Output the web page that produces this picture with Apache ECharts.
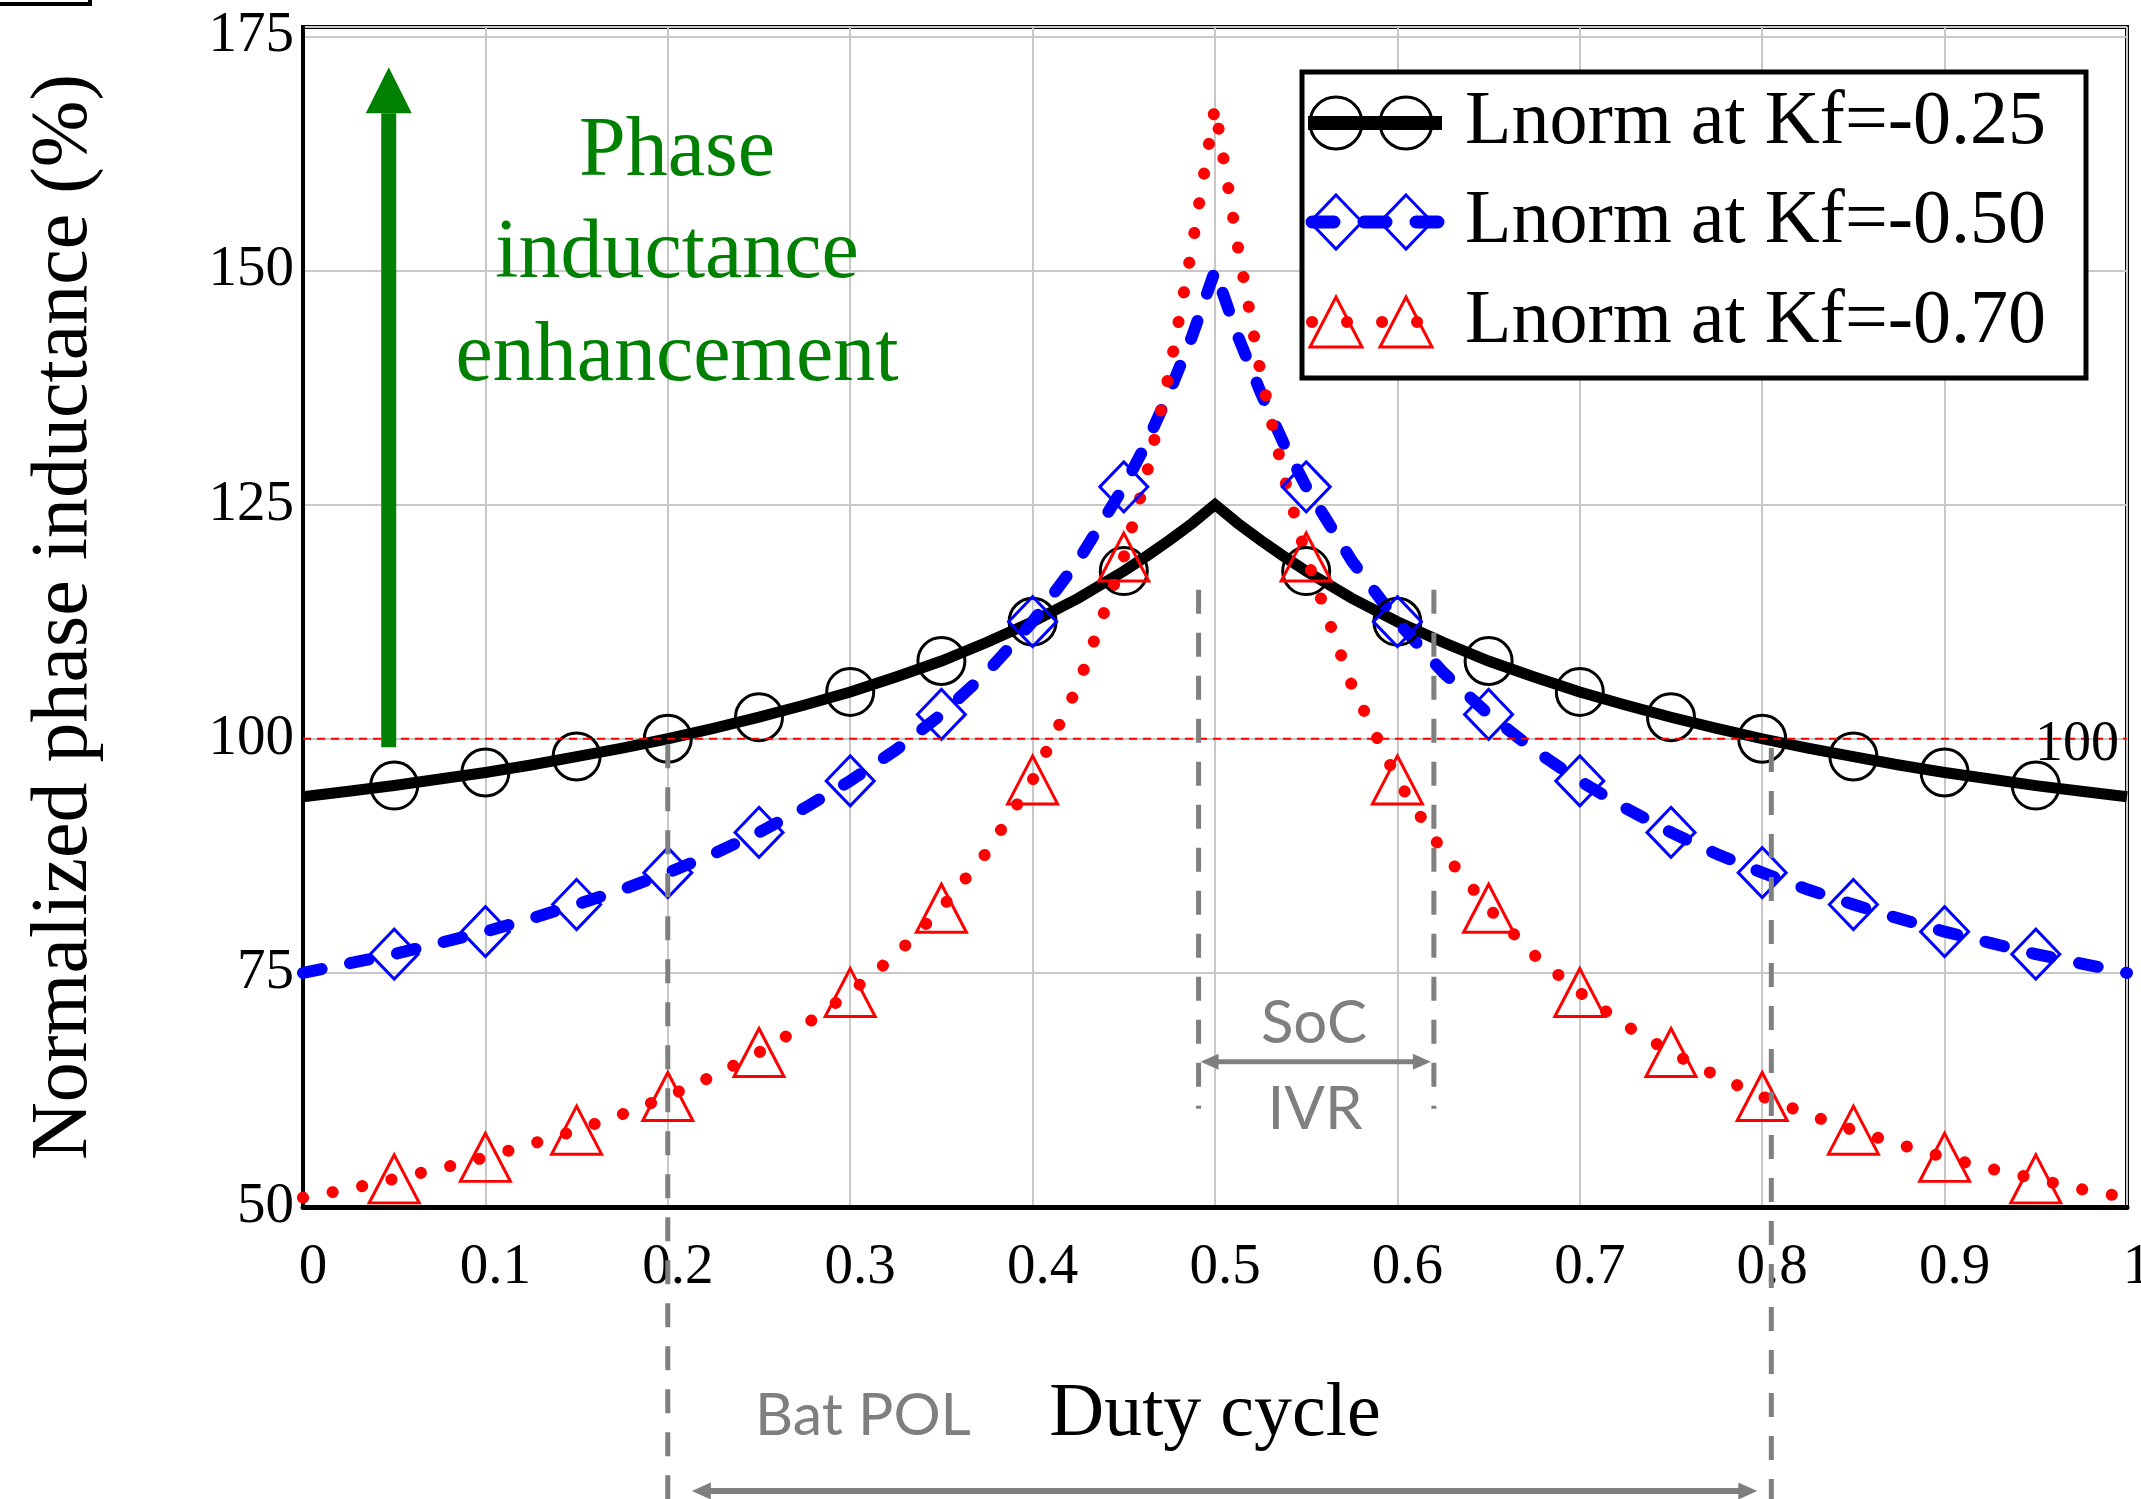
<!DOCTYPE html>
<html>
<head>
<meta charset="utf-8">
<title>Normalized phase inductance vs duty cycle</title>
<script src="https://cdn.jsdelivr.net/npm/echarts@6/dist/echarts.min.js"></script>
<style>
  html, body { margin: 0; padding: 0; background: #ffffff; }
  #chart { width: 2141px; height: 1499px; }
</style>
</head>
<body>
<div id="chart"></div>
<script>
// Duty cycle sample points (finer near D = 0.5 where the curves peak)
const dutyCycle = [0, 0.025, 0.05, 0.075, 0.1, 0.125, 0.15, 0.175, 0.2, 0.225, 0.25, 0.275, 0.3, 0.325, 0.35, 0.375, 0.4, 0.425, 0.45, 0.4625, 0.475, 0.4875, 0.5,
                   0.5125, 0.525, 0.5375, 0.55, 0.575, 0.6, 0.625, 0.65, 0.675, 0.7, 0.725, 0.75, 0.775, 0.8, 0.825, 0.85, 0.875, 0.9, 0.925, 0.95, 0.975, 1];

// Normalized phase inductance (%) for each coupling factor
const lnormKf025 = [93.8, 94.4, 95.0, 95.7, 96.4, 97.2, 98.1, 99.0, 100.0, 101.1, 102.3, 103.6, 105.0, 106.6, 108.3, 110.3, 112.5, 115.0, 117.9, 119.5, 121.2, 123.0, 125.0,
                    123.0, 121.2, 119.5, 117.9, 115.0, 112.5, 110.3, 108.3, 106.6, 105.0, 103.6, 102.3, 101.1, 100.0, 99.0, 98.1, 97.2, 96.4, 95.7, 95.0, 94.4, 93.8];
const lnormKf050 = [75.0, 76.0, 77.0, 78.2, 79.4, 80.8, 82.3, 83.9, 85.7, 87.7, 90.0, 92.6, 95.5, 98.8, 102.6, 107.1, 112.5, 119.0, 126.9, 131.6, 137.0, 143.0, 150.0,
                    143.0, 137.0, 131.6, 126.9, 119.0, 112.5, 107.1, 102.6, 98.8, 95.5, 92.6, 90.0, 87.7, 85.7, 83.9, 82.3, 80.8, 79.4, 78.2, 77.0, 76.0, 75.0];
const lnormKf070 = [51.0, 51.9, 53.0, 54.1, 55.3, 56.7, 58.2, 59.9, 61.8, 64.0, 66.5, 69.4, 72.9, 76.9, 81.9, 87.9, 95.6, 105.7, 119.4, 128.2, 139.1, 152.6, 167.5,
                    152.6, 139.1, 128.2, 119.4, 105.7, 95.6, 87.9, 81.9, 76.9, 72.9, 69.4, 66.5, 64.0, 61.8, 59.9, 58.2, 56.7, 55.3, 54.1, 53.0, 51.9, 51.0];

// Duty cycles that carry a marker symbol
const markerDuty = [0.05, 0.1, 0.15, 0.2, 0.25, 0.3, 0.35, 0.4, 0.45, 0.55, 0.6, 0.65, 0.7, 0.75, 0.8, 0.85, 0.9, 0.95];

const seriesNames = ['Lnorm at Kf=-0.25', 'Lnorm at Kf=-0.50', 'Lnorm at Kf=-0.70'];

// Y tick step; the frame runs slightly above the last labelled tick
const yStep = 25;
const yRange = [50, 176];

// Reference level and annotated duty-cycle ranges
const refLevel = 100;
const batPolRange = [0.2, 0.805];
const socIvrRange = [0.491, 0.62];

const SERIF = '"Liberation Serif", "Times New Roman", serif';
const SANS = 'Lato, "Open Sans", "Noto Sans", sans-serif';
const GRAY = '#7f7f7f';
const GREEN = '#008000';

const chart = echarts.init(document.getElementById('chart'), null, { renderer: 'canvas', width: 2141, height: 1499 });

function isMarker(d) {
  return markerDuty.some(function (m) { return Math.abs(m - d) < 1e-6; });
}

function curve(name, values, color, lineStyle, shape, size) {
  return {
    name: name,
    type: 'line',
    data: dutyCycle.map(function (d, i) { return [d, values[i]]; }),
    symbol: function (v) { return isMarker(v[0]) ? shape : 'none'; },
    symbolSize: size,
    itemStyle: { color: 'rgba(0,0,0,0)', borderColor: color, borderWidth: 3 },
    lineStyle: Object.assign({ color: color }, lineStyle),
    emphasis: { disabled: true },
    silent: true,
    clip: true
  };
}

const axisLabelBase = { fontFamily: SERIF, fontSize: 57, color: '#000', showMinLabel: true, showMaxLabel: true };
const splitLineStyle = { show: true, lineStyle: { color: '#c8c8c8', width: 2 } };

chart.setOption({
  animation: false,
  backgroundColor: '#ffffff',
  grid: {
    left: 303, top: 27, width: 1824, height: 1180,
    show: true, borderColor: '#000', borderWidth: 4, backgroundColor: 'transparent',
    containLabel: false, outerBoundsMode: 'none'
  },
  xAxis: {
    type: 'value', min: 0, max: 1, interval: 0.1,
    name: 'Duty cycle', nameLocation: 'middle', nameGap: 170,
    nameTextStyle: { fontFamily: SERIF, fontSize: 76, color: '#000' },
    axisLine: { show: true, onZero: false, lineStyle: { color: '#000', width: 5 } },
    axisTick: { show: false },
    axisLabel: Object.assign({ margin: 33, padding: [0, 0, 0, 20] }, axisLabelBase),
    splitLine: splitLineStyle
  },
  yAxis: {
    type: 'value', min: yRange[0], max: yRange[1], interval: yStep,
    name: 'Normalized phase inductance (%)', nameLocation: 'middle', nameGap: 198, nameRotate: 90,
    nameTextStyle: { fontFamily: SERIF, fontSize: 80, color: '#000' },
    axisLine: { show: true, onZero: false, lineStyle: { color: '#000', width: 4 } },
    axisTick: { show: false },
    axisLabel: Object.assign({
      margin: 9,
      formatter: function (v) { return (v - yRange[0]) % yStep === 0 ? String(v) : ''; }
    }, axisLabelBase),
    splitLine: splitLineStyle
  },
  series: [
    curve(seriesNames[0], lnormKf025, '#000000', { width: 11, join: 'miter' }, 'circle', 47),
    curve(seriesNames[1], lnormKf050, '#0000ff', { width: 12, type: [19, 29], cap: 'round', join: 'round' }, 'diamond', [48, 50]),
    curve(seriesNames[2], lnormKf070, '#ff0000', { width: 12, type: [0.1, 30], cap: 'round', join: 'round' }, 'triangle', [50, 48])
  ]
});

// ---- annotations (placed through the axes' own scales) ----
function px(x, y) { return chart.convertToPixel({ gridIndex: 0 }, [x, y]); }

function text(str, x, y, size, family, color, align, vAlign, z) {
  return {
    type: 'text', x: x, y: y, silent: true, z: z || 120,
    style: { text: str, fontSize: size, fontFamily: family, fill: color,
             align: align || 'center', verticalAlign: vAlign || 'middle',
             textAlign: align || 'center', textVerticalAlign: vAlign || 'middle' }
  };
}

function vDash(x, y1, y2) {
  return { type: 'line', silent: true, z: 110,
    shape: { x1: x, y1: y1, x2: x, y2: y2 },
    style: { stroke: GRAY, lineWidth: 5, lineDash: [24, 19] } };
}

function doubleArrow(x1, x2, y, shaftW, headLen, headW) {
  return [
    { type: 'line', silent: true, z: 110, shape: { x1: x1 + headLen - 2, y1: y, x2: x2 - headLen + 2, y2: y },
      style: { stroke: GRAY, lineWidth: shaftW } },
    { type: 'polygon', silent: true, z: 110, shape: { points: [[x1, y], [x1 + headLen, y - headW / 2], [x1 + headLen, y + headW / 2]] },
      style: { fill: GRAY } },
    { type: 'polygon', silent: true, z: 110, shape: { points: [[x2, y], [x2 - headLen, y - headW / 2], [x2 - headLen, y + headW / 2]] },
      style: { fill: GRAY } }
  ];
}

const g = [];

// partial frame at the top-left corner of the figure
g.push({ type: 'rect', silent: true, z: 100, shape: { x: -20, y: -30, width: 110, height: 34 },
         style: { fill: 'none', stroke: '#000', lineWidth: 4 } });

// reference line at 100 %
const refL = px(0, refLevel), refR = px(1, refLevel);
g.push({ type: 'line', silent: true, z: 105, shape: { x1: refL[0], y1: refL[1], x2: refR[0], y2: refR[1] },
         style: { stroke: '#ff0000', lineWidth: 2, lineDash: [8, 6] } });
g.push(text(String(refLevel), refR[0] - 8, refR[1] + 7, 56, SERIF, '#000', 'right', 'middle'));

// enhancement arrow
const arrowBottom = px(0.047, 99.1), arrowTip = px(0.047, 171.7), arrowBase = px(0.047, 166.8);
g.push({ type: 'rect', silent: true, z: 105,
         shape: { x: arrowBottom[0] - 7.5, y: arrowBase[1], width: 15, height: arrowBottom[1] - arrowBase[1] },
         style: { fill: GREEN } });
g.push({ type: 'polygon', silent: true, z: 105,
         shape: { points: [[arrowTip[0], arrowTip[1]], [arrowTip[0] + 23, arrowBase[1]], [arrowTip[0] - 23, arrowBase[1]]] },
         style: { fill: GREEN } });
g.push(text('Phase', 677, 153, 84, SERIF, GREEN));
g.push(text('inductance', 677, 255, 84, SERIF, GREEN));
g.push(text('enhancement', 677, 358, 84, SERIF, GREEN));

// Bat POL range
const bp0 = px(batPolRange[0], 99.4), bp1 = px(batPolRange[1], 99.0);
g.push(vDash(bp0[0], bp0[1], 1499));
g.push(vDash(bp1[0], bp1[1], 1499));
doubleArrow(bp0[0] + 24, bp1[0] - 14, 1491, 6, 19, 17).forEach(function (e) { g.push(e); });
g.push(text('Bat POL', 863, 1416, 59, SANS, GRAY));

// SoC / IVR range
const s0t = px(socIvrRange[0], 115.9), s0b = px(socIvrRange[0], 60.5);
const s1t = px(socIvrRange[1], 115.9), s1b = px(socIvrRange[1], 60.5);
g.push(vDash(s0t[0], s0t[1], s0b[1]));
g.push(vDash(s1t[0], s1t[1], s1b[1]));
const sArrowY = px(0.5, 65.5)[1];
doubleArrow(s0t[0] + 2, s1t[0] - 3, sArrowY, 5, 18, 16).forEach(function (e) { g.push(e); });
g.push(text('SoC', 1314, 1024, 60, SANS, GRAY));
g.push(text('IVR', 1315, 1110, 60, SANS, GRAY));

// legend box
g.push({ type: 'rect', silent: true, z: 130, shape: { x: 1302, y: 72, width: 784, height: 306 },
         style: { fill: '#ffffff', stroke: '#000', lineWidth: 5 } });
const rowY = [123, 222, 322];
const symX = [1336, 1406];
// black solid with circles
g.push({ type: 'line', silent: true, z: 131, shape: { x1: 1308, y1: rowY[0], x2: 1442, y2: rowY[0] },
         style: { stroke: '#000', lineWidth: 14 } });
symX.forEach(function (x) {
  g.push({ type: 'circle', silent: true, z: 132, shape: { cx: x, cy: rowY[0], r: 26 },
           style: { fill: 'none', stroke: '#000', lineWidth: 3 } });
});
// blue dashed with diamonds
g.push({ type: 'line', silent: true, z: 131, shape: { x1: 1312, y1: rowY[1], x2: 1440, y2: rowY[1] },
         style: { stroke: '#0000ff', lineWidth: 13, lineDash: [22, 30], lineCap: 'round' } });
symX.forEach(function (x) {
  g.push({ type: 'polygon', silent: true, z: 132,
           shape: { points: [[x, rowY[1] - 27], [x + 26, rowY[1]], [x, rowY[1] + 27], [x - 26, rowY[1]]] },
           style: { fill: 'none', stroke: '#0000ff', lineWidth: 3 } });
});
// red dotted with triangles
g.push({ type: 'line', silent: true, z: 131, shape: { x1: 1312, y1: rowY[2], x2: 1440, y2: rowY[2] },
         style: { stroke: '#ff0000', lineWidth: 12, lineDash: [0.1, 34.9], lineCap: 'round' } });
symX.forEach(function (x) {
  g.push({ type: 'polygon', silent: true, z: 132,
           shape: { points: [[x, rowY[2] - 25], [x + 26, rowY[2] + 25], [x - 26, rowY[2] + 25]] },
           style: { fill: 'none', stroke: '#ff0000', lineWidth: 3 } });
});
seriesNames.forEach(function (n, i) {
  g.push(text(n, 1465, rowY[i], 76, SERIF, '#000', 'left', 'middle', 140));
});

chart.setOption({ graphic: { elements: g } });
</script>
</body>
</html>
